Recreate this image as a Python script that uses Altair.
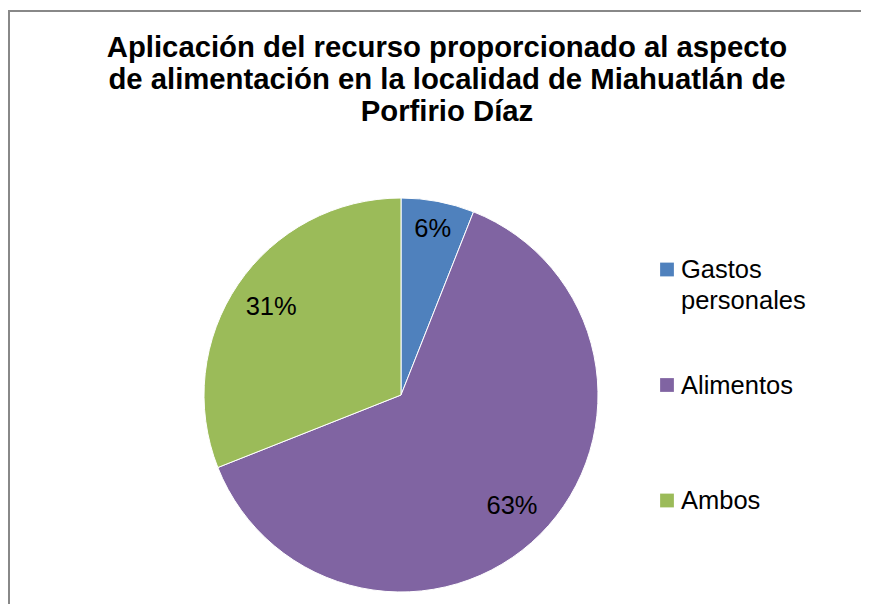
import altair as alt
import pandas as pd

categories = ["Gastos personales", "Alimentos", "Ambos"]
shares = [6, 63, 31]
slice_labels = ["6%", "63%", "31%"]
legend_text = ["Gastos\npersonales", "Alimentos", "Ambos"]
colors = ["#4F81BD", "#8064A2", "#9BBB59"]
title_lines = ["Aplicación del recurso proporcionado al aspecto\nde alimentación en la localidad de Miahuatlán de\nPorfirio Díaz"]

df = pd.DataFrame({
    "cat": categories,
    "share": shares,
    "label": slice_labels,
    "legend": legend_text,
    "idx": list(range(len(categories))),
})

FONT = "Liberation Sans"
CX, CY, R = 393, 387, 197
W, H = 853, 596

base = alt.Chart(df)
color = alt.Color("cat:N", scale=alt.Scale(domain=categories, range=colors), legend=None)
theta = alt.Theta("share:Q", stack=True)
order = alt.Order("idx:Q")

one = pd.DataFrame({"a": [0]})
border_top = alt.Chart(one).mark_rule(stroke="#888888", strokeWidth=2).encode(
    x=alt.value(0), x2=alt.value(W), y=alt.value(3)
)
border_left = alt.Chart(one).mark_rule(stroke="#888888", strokeWidth=2).encode(
    x=alt.value(1), y=alt.value(2), y2=alt.value(H)
)

pie = base.mark_arc(radius=R, stroke="white", strokeWidth=1).encode(
    theta=theta, color=color, order=order, x=alt.value(CX), y=alt.value(CY)
)

lab_big = base.transform_calculate(
    t="datum.idx == 0 ? '' : datum.label"
).mark_text(radius=157, fontSize=25.5, font=FONT, color="black", baseline="middle").encode(
    theta=theta, order=order, text="t:N", x=alt.value(CX), y=alt.value(CY)
)

lab_small = base.transform_calculate(
    t="datum.idx == 0 ? datum.label : ''"
).mark_text(radius=169, fontSize=25.5, font=FONT, color="black", baseline="middle").encode(
    theta=theta, order=order, text="t:N", x=alt.value(CX), y=alt.value(CY)
)

yleg = alt.Y("cat:N", scale=alt.Scale(type="point", domain=categories, range=[261.5, 492.5], padding=0), axis=None)

leg_sq = base.mark_square(size=190, opacity=1).encode(
    x=alt.value(659), y=yleg, color=color
)

leg_txt = base.mark_text(
    align="left", baseline="alphabetic", dy=8.5, fontSize=25.5, font=FONT,
    lineBreak="\n", lineHeight=31, color="black"
).encode(x=alt.value(673), y=yleg, text="legend:N")

title = alt.Chart(pd.DataFrame({"t": title_lines})).mark_text(
    fontSize=29.3, fontWeight="bold", font=FONT, lineBreak="\n", lineHeight=32,
    align="center", baseline="alphabetic", color="black"
).encode(x=alt.value(439), y=alt.value(49), text="t:N")

chart = alt.layer(border_top, border_left, pie, lab_big, lab_small, leg_sq, leg_txt, title).properties(
    width=W, height=H, autosize=alt.AutoSizeParams(type="none"), padding=0,
    background="white"
).configure_view(strokeWidth=0)

chart.save("out.html", embed_options={"renderer": "svg", "actions": False})
